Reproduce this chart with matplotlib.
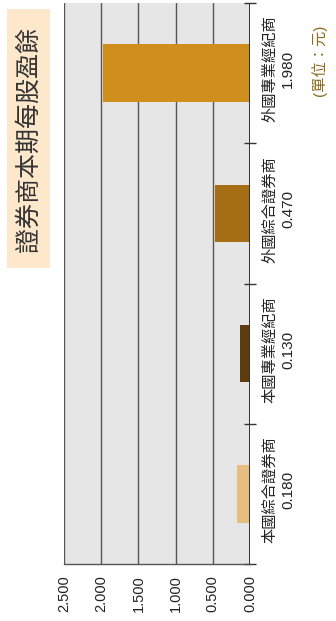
import matplotlib
matplotlib.use("Agg")
import matplotlib.pyplot as plt
from matplotlib.patches import Rectangle
from matplotlib.ticker import FixedLocator

plt.rcParams['font.family'] = ['Liberation Sans', 'Noto Sans CJK TC', 'DejaVu Sans']

categories = ['本國綜合證券商', '本國專業經紀商', '外國綜合證券商', '外國專業經紀商']
values = [0.180, 0.130, 0.470, 1.980]
colors = ['#E6BF80', '#5C3D0B', '#A66E14', '#D08F1C']
xticks = [2.5, 2.0, 1.5, 1.0, 0.5, 0.0]
xticklabels = ['2.500', '2.000', '1.500', '1.000', '0.500', '0.000']
title = '證券商本期每股盈餘'
unit = '(單位：元)'

W, H = 336, 621
fig = plt.figure(figsize=(W / 100, H / 100), dpi=100)
ax = fig.add_axes([64 / W, 57 / H, 186 / W, 561 / H])
ax.set_facecolor('#E6E6E6')

ypos = list(range(len(categories)))
ax.barh(ypos, values, height=0.41, color=colors, zorder=3)

ax.set_xlim(2.5, 0)
ax.set_ylim(-0.5, len(categories) - 0.5)

# grid lines
for t in xticks[:-1]:
    ax.axvline(t, color='#555555', lw=1.0, zorder=2)
ax.axvline(0, color='#333333', lw=1.4, zorder=4)

for s in ['top', 'left', 'right']:
    ax.spines[s].set_visible(False)
ax.spines['bottom'].set_color('#555555')
ax.spines['bottom'].set_linewidth(1.0)

ax.set_xticks(xticks)
ax.set_xticklabels(xticklabels, rotation=90, fontsize=10.5, color='#222222')
ax.tick_params(axis='x', length=0, pad=8)

ax.yaxis.tick_right()
ax.set_yticks([])
ax.yaxis.set_minor_locator(FixedLocator([-0.5, 0.5, 1.5, 2.5, 3.5]))
ax.tick_params(axis='y', which='minor', right=True, length=8, direction='inout',
               width=1.0, color='#333333')

for i, (c, v) in enumerate(zip(categories, values)):
    ax.annotate(f'{c}\n{v:.3f}', xy=(0, i), xytext=(9.5, 3), textcoords='offset points',
                rotation=90, ha='left', va='center', multialignment='center',
                fontsize=11, color='#222222', linespacing=1.35, annotation_clip=False)

# title box
fig.patches.append(Rectangle((7 / W, (H - 268) / H), 43 / W, 259 / H,
                             transform=fig.transFigure, facecolor='#FDE8CC',
                             edgecolor='none'))
fig.text(29 / W, (H - 139) / H, title, rotation=90, ha='center', va='center',
         fontsize=18, color='#333333')

fig.text(319 / W, (H - 60) / H, unit, rotation=90, ha='center', va='center',
         fontsize=11, color='#8B6A1E')

fig.savefig('out.png', dpi=100)
